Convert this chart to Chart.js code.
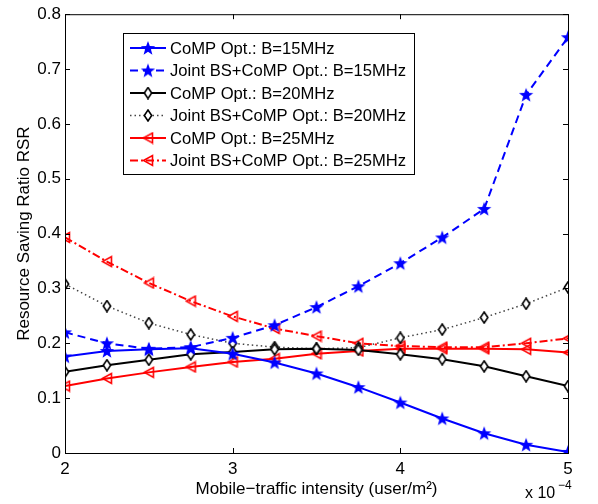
<!DOCTYPE html>
<html>
<head>
<meta charset="utf-8">
<script src="https://cdn.jsdelivr.net/npm/chart.js@4.4.1/dist/chart.umd.min.js"></script>
<style>
  html, body { margin: 0; padding: 0; background: #fff; }
  #wrap { width: 598px; height: 504px; }
</style>
</head>
<body>
<div id="wrap"><canvas id="chart" width="598" height="504"></canvas></div>
<script>
const FONT = "'Liberation Sans', Arial, Helvetica, sans-serif";

// traffic intensity (x 10^-4 user/m^2)
const intensity = [2, 2.25, 2.5, 2.75, 3, 3.25, 3.5, 3.75, 4, 4.25, 4.5, 4.75, 5];

const comp15  = [0.176, 0.186, 0.189, 0.191, 0.181, 0.165, 0.145, 0.120, 0.092, 0.063, 0.036, 0.015, 0.002];
const joint15 = [0.220, 0.200, 0.190, 0.193, 0.210, 0.233, 0.266, 0.304, 0.346, 0.393, 0.445, 0.653, 0.758];
const comp20  = [0.148, 0.160, 0.170, 0.180, 0.184, 0.189, 0.190, 0.188, 0.180, 0.171, 0.158, 0.140, 0.122];
const joint20 = [0.308, 0.268, 0.237, 0.216, 0.200, 0.193, 0.190, 0.192, 0.210, 0.225, 0.247, 0.272, 0.302];
const comp25  = [0.122, 0.136, 0.147, 0.157, 0.166, 0.172, 0.181, 0.186, 0.190, 0.190, 0.190, 0.189, 0.183];
const joint25 = [0.393, 0.349, 0.310, 0.277, 0.249, 0.227, 0.213, 0.200, 0.195, 0.193, 0.193, 0.200, 0.209];

const seriesLabels = [
  "CoMP Opt.: B=15MHz",
  "Joint BS+CoMP Opt.: B=15MHz",
  "CoMP Opt.: B=20MHz",
  "Joint BS+CoMP Opt.: B=20MHz",
  "CoMP Opt.: B=25MHz",
  "Joint BS+CoMP Opt.: B=25MHz"
];

const xTicks = [2, 3, 4, 5];
const yTicks = [0, 0.1, 0.2, 0.3, 0.4, 0.5, 0.6, 0.7, 0.8];

// marker images
function starImg(color) {
  const c = document.createElement("canvas");
  c.width = 16; c.height = 16;
  const g = c.getContext("2d");
  g.fillStyle = color;
  g.beginPath();
  for (let i = 0; i < 10; i++) {
    const r = i % 2 === 0 ? 7.5 : 3.1;
    const a = -Math.PI / 2 + i * Math.PI / 5;
    const px = 8 + r * Math.cos(a), py = 8.6 + r * Math.sin(a);
    if (i === 0) g.moveTo(px, py); else g.lineTo(px, py);
  }
  g.closePath();
  g.fill();
  return c;
}

function diamondImg(color) {
  const c = document.createElement("canvas");
  c.width = 10; c.height = 13;
  const g = c.getContext("2d");
  g.strokeStyle = color;
  g.lineWidth = 1.6;
  g.fillStyle = "#fff";
  g.beginPath();
  g.moveTo(5, 1); g.lineTo(8.7, 6.5); g.lineTo(5, 12); g.lineTo(1.3, 6.5);
  g.closePath();
  g.fill();
  g.stroke();
  return c;
}

function triImg(color) {
  const c = document.createElement("canvas");
  c.width = 12; c.height = 13;
  const g = c.getContext("2d");
  g.strokeStyle = color;
  g.lineWidth = 1.6;
  g.beginPath();
  g.moveTo(1.5, 6.5); g.lineTo(10.5, 1.5); g.lineTo(10.5, 11.5);
  g.closePath();
  g.stroke();
  return c;
}

const blueStar = starImg("#0000ff");
const blackDiamond = diamondImg("#000");
const redTri = triImg("#ff0000");

function pts(vals) {
  return intensity.map((x, i) => ({ x: x, y: vals[i] }));
}

function series(label, vals, color, dash, width, marker) {
  return {
    label: label,
    data: pts(vals),
    borderColor: color,
    backgroundColor: color,
    borderWidth: width,
    borderDash: dash,
    pointStyle: marker,
    pointRadius: 6,
    pointHoverRadius: 6,
    tension: 0,
    fill: false
  };
}

const datasets = [
  series(seriesLabels[0], comp15, "#0000ff", [], 2, blueStar),
  series(seriesLabels[1], joint15, "#0000ff", [8, 5], 2, blueStar),
  series(seriesLabels[2], comp20, "#000000", [], 2, blackDiamond),
  series(seriesLabels[3], joint20, "#444444", [1.5, 3], 1.5, blackDiamond),
  series(seriesLabels[4], comp25, "#ff0000", [], 2, redTri),
  series(seriesLabels[5], joint25, "#ff0000", [8, 3, 2, 3], 2, redTri)
];

// box, inward ticks, legend, x10^-4 label
const frame = {
  id: "frame",
  afterDraw(chart) {
    const ctx = chart.ctx;
    const a = chart.chartArea;
    const xs = chart.scales.x, ys = chart.scales.y;
    ctx.save();
    ctx.strokeStyle = "#000";
    ctx.lineWidth = 1;
    ctx.strokeRect(a.left + 0.5, a.top + 0.5, a.right - a.left, a.bottom - a.top);
    ctx.beginPath();
    xTicks.forEach(v => {
      const px = Math.round(xs.getPixelForValue(v)) + 0.5;
      ctx.moveTo(px, a.bottom); ctx.lineTo(px, a.bottom - 5);
      ctx.moveTo(px, a.top); ctx.lineTo(px, a.top + 5);
    });
    yTicks.forEach(v => {
      const py = Math.round(ys.getPixelForValue(v)) + 0.5;
      ctx.moveTo(a.left, py); ctx.lineTo(a.left + 5, py);
      ctx.moveTo(a.right, py); ctx.lineTo(a.right - 5, py);
    });
    ctx.stroke();

    // legend
    const lx = 123, ly = 33, lw = 291, lh = 141;
    ctx.fillStyle = "#fff";
    ctx.fillRect(lx, ly, lw, lh);
    ctx.strokeRect(lx + 0.5, ly + 0.5, lw, lh);
    ctx.font = "16.6px " + FONT;
    ctx.textBaseline = "middle";
    ctx.textAlign = "left";
    chart.data.datasets.forEach((ds, i) => {
      const ry = 48 + i * 22.5;
      ctx.save();
      ctx.strokeStyle = ds.borderColor;
      ctx.lineWidth = ds.borderWidth;
      ctx.setLineDash(ds.borderDash);
      ctx.beginPath();
      ctx.moveTo(130, ry); ctx.lineTo(166, ry);
      ctx.stroke();
      ctx.restore();
      const img = ds.pointStyle;
      ctx.drawImage(img, 148 - img.width / 2, ry - img.height / 2);
      ctx.fillStyle = "#000";
      ctx.fillText(ds.label, 170, ry + 1);
    });

    ctx.fillStyle = "#000";
    ctx.font = "16px " + FONT;
    ctx.fillText("x 10", 525, 494);
    ctx.font = "12px " + FONT;
    ctx.fillText("\u22124", 558, 486);
    ctx.restore();
  }
};

new Chart(document.getElementById("chart").getContext("2d"), {
  type: "line",
  data: { datasets: datasets },
  plugins: [frame],
  options: {
    responsive: false,
    animation: false,
    layout: { padding: { left: 0, right: 30, top: 13, bottom: 0 } },
    plugins: { legend: { display: false }, tooltip: { enabled: false } },
    scales: {
      x: {
        type: "linear",
        min: 2,
        max: 5,
        afterFit: s => { s.height = 51; },
        afterBuildTicks: s => { s.ticks = xTicks.map(v => ({ value: v })); },
        grid: { display: false, drawTicks: false },
        border: { display: false },
        ticks: { color: "#000", padding: 6, font: { family: FONT, size: 17 } },
        title: {
          display: true,
          text: "Mobile\u2212traffic intensity (user/m\u00b2)",
          color: "#000",
          font: { family: FONT, size: 17 },
          padding: { top: 0, bottom: 4 }
        }
      },
      y: {
        min: 0,
        max: 0.8,
        afterFit: s => { s.width = 65; },
        afterBuildTicks: s => { s.ticks = yTicks.map(v => ({ value: v })); },
        grid: { display: false, drawTicks: false },
        border: { display: false },
        ticks: {
          color: "#000",
          padding: 4,
          font: { family: FONT, size: 17 },
          callback: v => String(Math.round(v * 10) / 10)
        },
        title: {
          display: true,
          text: "Resource Saving Ratio RSR",
          color: "#000",
          font: { family: FONT, size: 17 },
          padding: { top: 14, bottom: 0 }
        }
      }
    }
  }
});
</script>
</body>
</html>
